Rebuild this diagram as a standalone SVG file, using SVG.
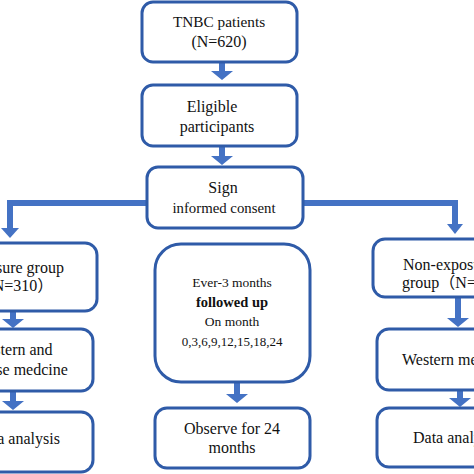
<svg xmlns="http://www.w3.org/2000/svg" width="474" height="474" viewBox="0 0 474 474">
<style>
.box{fill:#fff;stroke:#2f5ba8;stroke-width:3}
.t{font-family:"Liberation Serif","Times New Roman","Noto Sans CJK SC",serif;font-size:16px;fill:#111;text-anchor:middle}
.s{text-anchor:start}
.b{font-weight:bold}
.arr{fill:#4472c4;stroke:none}
.bar{fill:none;stroke:#4472c4;stroke-width:6;stroke-linejoin:miter}
</style>
<rect width="474" height="474" fill="#fff"/>
<g id="connectors">
<path class="arr" d="M219,62h6v9h8l-11,9l-11,-9h8z"/>
<path class="arr" d="M219,146h6v10h8l-11,9l-11,-9h8z"/>
<polyline class="bar" points="146,203 10,203 10,229"/>
<path class="arr" d="M1,228h18l-9,10z"/>
<polyline class="bar" points="303,203 455,203 455,225"/>
<path class="arr" d="M447,224h16l-8,10z"/>
<path class="arr" d="M10,311h6v8h8l-11,9l-11,-9h8z"/>
<path class="arr" d="M10,391h6v10h8l-11,9l-11,-9h8z"/>
<path class="arr" d="M234,382h6v12h8l-11,9l-11,-9h8z"/>
<path class="arr" d="M455,297h6v21h8l-11,9l-11,-9h8z"/>
<path class="arr" d="M457,390h6v8h8l-11,9l-11,-9h8z"/>
</g>
<g id="tnbc">
<rect class="box" x="142" y="2" width="155" height="60" rx="11"/>
<text class="t" x="219" y="27" style="font-size:15.3px">TNBC patients</text>
<text class="t" x="219" y="47">(N=620)</text>
</g>
<g id="eligible">
<rect class="box" x="142" y="85" width="155" height="61" rx="11"/>
<text class="t" x="212" y="112">Eligible</text>
<text class="t" x="217" y="132">participants</text>
</g>
<g id="consent">
<rect class="box" x="147" y="167" width="156" height="61" rx="11"/>
<text class="t" x="223" y="193">Sign</text>
<text class="t" x="224" y="213" style="font-size:14.8px">informed consent</text>
</g>
<g id="exposure">
<rect class="box" x="-70" y="243" width="167" height="68" rx="12"/>
<text class="t" x="13" y="273">Exposure group</text>
<text class="t" x="15" y="291">（N=310）</text>
</g>
<g id="followup">
<rect class="box" x="155" y="244" width="155" height="138" rx="26"/>
<text class="t" x="232" y="287" style="font-size:13.5px">Ever-3 months</text>
<text class="t b" x="232" y="307" style="font-size:14.5px">followed up</text>
<text class="t" x="232" y="326" style="font-size:13.5px">On month</text>
<text class="t" x="232" y="346" style="font-size:13px">0,3,6,9,12,15,18,24</text>
</g>
<g id="nonexposure">
<rect class="box" x="373" y="239" width="140" height="58" rx="12"/>
<text class="t s" x="403" y="270">Non-exposure</text>
<text class="t s" x="402" y="288">group（N=310）</text>
</g>
<g id="western-chinese">
<rect class="box" x="-70" y="329" width="163" height="62" rx="12"/>
<text class="t" x="13" y="355">Western and</text>
<text class="t" x="13" y="375">Chinese medcine</text>
</g>
<g id="western">
<rect class="box" x="377" y="329" width="140" height="61" rx="12"/>
<text class="t s" x="402" y="365">Western medicine</text>
</g>
<g id="observe">
<rect class="box" x="155" y="408" width="155" height="60" rx="12"/>
<text class="t" x="232" y="434">Observe for 24</text>
<text class="t" x="232" y="453">months</text>
</g>
<g id="data-left">
<rect class="box" x="-70" y="412" width="163" height="60" rx="12"/>
<text class="t" x="17" y="444">Data analysis</text>
</g>
<g id="data-right">
<rect class="box" x="377" y="408" width="140" height="59" rx="12"/>
<text class="t s" x="413" y="443">Data analysis</text>
</g>
</svg>
